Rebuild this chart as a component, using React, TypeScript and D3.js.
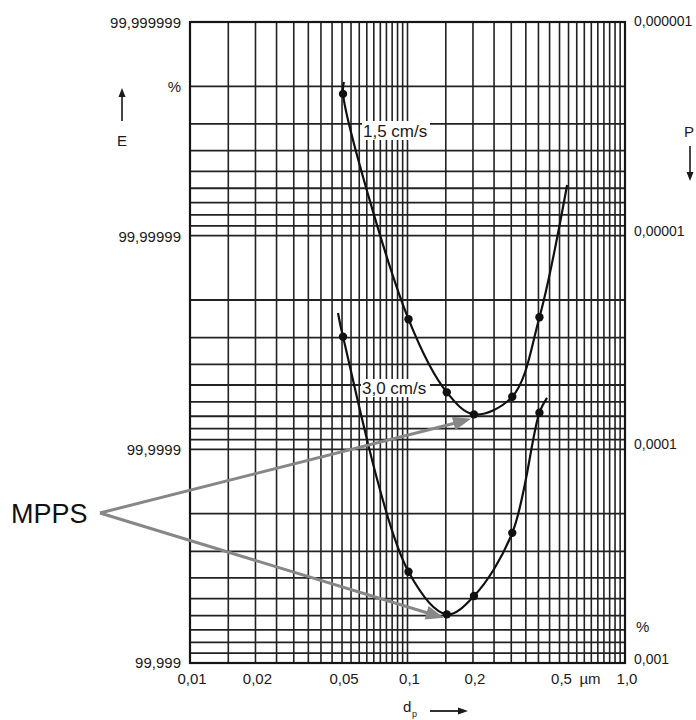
import React from "react";
import * as d3 from "d3";

// ---- data (d_p in µm, penetration P in %) ----
const dotsD = [0.05, 0.1, 0.15, 0.2, 0.3, 0.4];
const pen15 = [2.17e-6, 2.46e-5, 5.41e-5, 6.86e-5, 5.67e-5, 2.41e-5];
const pen30 = [2.97e-5, 3.74e-4, 5.92e-4, 4.86e-4, 2.46e-4, 6.74e-5];
// curve end points (beyond the measured dots)
const ends15D = [0.0505, 0.536];
const ends15P = [1.91e-6, 5.79e-6];
const ends30D = [0.0474, 0.4333];
const ends30P = [2.3e-5, 5.75e-5];
// minima (MPPS)
const mppsIdx = [3, 2];

const xTickVals = [0.01, 0.02, 0.05, 0.1, 0.2, 0.5, 1.0];
const xTickLabels = ["0,01", "0,02", "0,05", "0,1", "0,2", "0,5", "1,0"];
const yTickVals = [1e-6, 1e-5, 1e-4, 1e-3];
const yLeftLabels = ["99,999999", "99,99999", "99,9999", "99,999"];
const yRightLabels = ["0,000001", "0,00001", "0,0001", "0,001"];

const W = 696, H = 720;
const L = 190, R = 625, T = 22, B = 663;
const FONT = "'Liberation Sans', Arial, Helvetica, sans-serif";
const INK = "#1a1a1a";

export default function App() {
  const x = d3.scaleLog().domain([0.01, 1]).range([L, R]);
  const y = d3.scaleLog().domain([1e-6, 1e-3]).range([T, B]);

  const vGrid: number[] = [];
  [0.01, 0.1].forEach((dec) => {
    for (let k = 1; k < 10; k += 0.5) vGrid.push(dec * k);
  });
  vGrid.push(1);
  const hGrid: number[] = [];
  [1e-6, 1e-5, 1e-4].forEach((dec) => {
    for (let k = 1; k < 10; k += 1) hGrid.push(dec * k);
  });
  hGrid.push(1e-3);

  const line = d3
    .line<[number, number]>()
    .x((d) => x(d[0]) + 1)
    .y((d) => y(d[1]))
    .curve(d3.curveCatmullRom.alpha(0.5));

  const pts15: [number, number][] = [
    [ends15D[0], ends15P[0]],
    ...dotsD.map((d, i) => [d, pen15[i]] as [number, number]),
    [ends15D[1], ends15P[1]],
  ];
  const pts30: [number, number][] = [
    [ends30D[0], ends30P[0]],
    ...dotsD.map((d, i) => [d, pen30[i]] as [number, number]),
    [ends30D[1], ends30P[1]],
  ];

  const origin = [100, 513];
  const targets = [
    [x(dotsD[mppsIdx[0]]) + 1, y(pen15[mppsIdx[0]])],
    [x(dotsD[mppsIdx[1]]) + 1, y(pen30[mppsIdx[1]])],
  ];

  const arrow = (tx: number, ty: number, key: string) => {
    const dx = tx - origin[0], dy = ty - origin[1];
    const len = Math.hypot(dx, dy);
    const ux = dx / len, uy = dy / len;
    const tipX = tx - ux * 2 - 1, tipY = ty - uy * 2 + 4;
    const hl = 18, hw = 7;
    const bx = tipX - ux * hl, by = tipY - uy * hl;
    const px = -uy, py = ux;
    return (
      <g key={key}>
        <line x1={origin[0]} y1={origin[1]} x2={bx + ux * 2} y2={by + uy * 2} stroke="#878787" strokeWidth={3} />
        <path
          d={`M${tipX},${tipY} L${bx + px * hw},${by + py * hw} L${bx - px * hw},${by - py * hw} Z`}
          fill="#878787"
        />
      </g>
    );
  };

  return (
    <>
      <style>{`body{margin:0}`}</style>
      <svg width={W} height={H} style={{ display: "block", background: "#fff", fontFamily: FONT }}>
        <rect x={0} y={0} width={W} height={H} fill="#fff" />
        {/* grid */}
        {vGrid.map((v, i) => (
          <line key={"v" + i} x1={x(v)} x2={x(v)} y1={T} y2={B} stroke="#222" strokeWidth={1.6} />
        ))}
        {hGrid.map((v, i) => (
          <line key={"h" + i} x1={L} x2={R} y1={y(v)} y2={y(v)} stroke="#222" strokeWidth={1.8} />
        ))}
        <rect x={L} y={T} width={R - L} height={B - T} fill="none" stroke="#151515" strokeWidth={2.2} />

        {/* curve labels with white boxes */}
        <rect x={362} y={121} width={68} height={19} fill="#fff" />
        <text x={363} y={137} fontSize={17} fill={INK}>1,5 cm/s</text>
        <rect x={361} y={379} width={69} height={18} fill="#fff" />
        <text x={362} y={394} fontSize={17} fill={INK}>3,0 cm/s</text>

        {/* curves */}
        <path d={line(pts15) || ""} fill="none" stroke="#111" strokeWidth={2.2} />
        <path d={line(pts30) || ""} fill="none" stroke="#111" strokeWidth={2.2} />
        {dotsD.map((d, i) => (
          <circle key={"a" + i} cx={x(d) + 1} cy={y(pen15[i])} r={4.2} fill="#111" />
        ))}
        {dotsD.map((d, i) => (
          <circle key={"b" + i} cx={x(d) + 1} cy={y(pen30[i])} r={4.2} fill="#111" />
        ))}

        {/* left axis labels */}
        {yTickVals.map((v, i) => (
          <text key={"l" + i} x={181} y={y(v) + (i === 3 ? 5 : 6)} fontSize={15} textAnchor="end" fill={INK}>
            {yLeftLabels[i]}
          </text>
        ))}
        <text x={181} y={92} fontSize={15} textAnchor="end" fill={INK}>%</text>
        {/* E arrow */}
        <line x1={122} y1={121} x2={122} y2={96} stroke={INK} strokeWidth={1.6} />
        <path d="M118.5,97 L122,88 L125.5,97 Z" fill={INK} />
        <text x={122} y={146} fontSize={15} textAnchor="middle" fill={INK}>E</text>

        {/* right axis labels */}
        {yTickVals.map((v, i) => (
          <text key={"r" + i} x={634} y={y(v) + (i === 3 ? 1 : i === 0 ? 4 : 0)} fontSize={14} fill={INK}>
            {yRightLabels[i]}
          </text>
        ))}
        <text x={636} y={632} fontSize={15} fill={INK}>%</text>
        {/* P arrow */}
        <text x={689} y={137} fontSize={15} textAnchor="middle" fill={INK}>P</text>
        <line x1={690} y1={146} x2={690} y2={173} stroke={INK} strokeWidth={1.6} />
        <path d="M686.5,172 L690,181 L693.5,172 Z" fill={INK} />

        {/* x axis labels */}
        {xTickVals.map((v, i) => (
          <text key={"x" + i} x={x(v) + 2} y={684} fontSize={15} textAnchor="middle" fill={INK}>
            {xTickLabels[i]}
          </text>
        ))}
        <text x={590} y={684} fontSize={15} textAnchor="middle" fill={INK}>µm</text>
        <text x={403} y={712} fontSize={15} fill={INK}>d</text>
        <text x={412} y={717} fontSize={9} fill={INK}>p</text>
        <line x1={430} y1={711} x2={460} y2={711} stroke={INK} strokeWidth={1.8} />
        <path d="M458,707.5 L468,711 L458,714.5 Z" fill={INK} />

        {/* MPPS */}
        <text x={11} y={523} fontSize={27} fill="#111">MPPS</text>
        {targets.map((t, i) => arrow(t[0], t[1], "m" + i))}
      </svg>
    </>
  );
}
